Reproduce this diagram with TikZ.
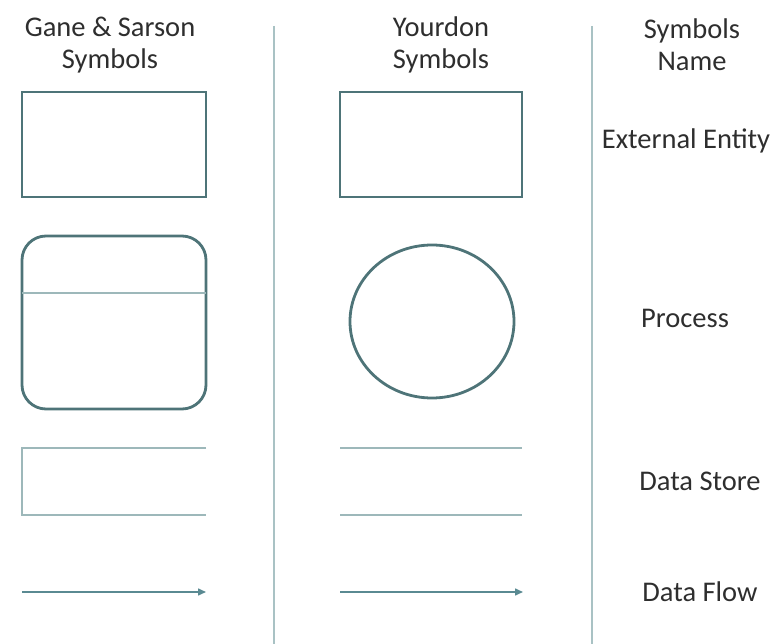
\documentclass[tikz,border=0pt]{standalone}
\usepackage{fontspec}
\setmainfont{Carlito}
\usetikzlibrary{arrows.meta,shapes.geometric}
\definecolor{shapeline}{HTML}{4E7478}
\definecolor{storeline}{HTML}{9DB8BA}
\definecolor{flowline}{HTML}{5A8A92}
\definecolor{divider}{HTML}{A9C2C4}
\definecolor{labeltext}{HTML}{2E2E2E}
\begin{document}
\begin{tikzpicture}[x=1pt,y=-1pt,
  label/.style={font=\fontsize{28.5}{32}\selectfont, text=labeltext, align=center, inner sep=0pt},
  entitybox/.style={draw=shapeline, line width=2.8pt, minimum width=184pt, minimum height=105pt, inner sep=0pt},
  procbox/.style={draw=shapeline, line width=2.8pt, rounded corners=24pt},
  storeedge/.style={draw=storeline, line width=1.8pt},
  flow/.style={draw=flowline, line width=1.5pt, -{Triangle[length=8pt,width=7pt]}},
  divide/.style={draw=divider, line width=1.2pt}
]
\useasboundingbox (0,0) rectangle (774,644);

% column headers
\node[label] (hgs) at (110,45) {Gane \& Sarson\\Symbols};
\node[label] (hyd) at (441,45) {Yourdon\\Symbols};
\node[label] (hnm) at (692,45) {Symbols\\Name};

% column dividers
\coordinate (d1a) at (274,26); \coordinate (d1b) at (274,644);
\coordinate (d2a) at (592,26); \coordinate (d2b) at (592,644);
\draw[divide] (d1a) -- (d1b);
\draw[divide] (d2a) -- (d2b);

% external entity
\node[entitybox] (gsent) at (114,144.5) {};
\node[entitybox, minimum width=182pt] (ydent) at (431,144.5) {};
\node[label] (nment) at (686,141) {External Entity};

% process
\draw[procbox] (22,236) rectangle (206,409);
\coordinate (gsbarL) at (22,293); \coordinate (gsbarR) at (206,293);
\draw[draw=storeline, line width=1.4pt] (gsbarL) -- (gsbarR);
\node[draw=shapeline, line width=2.8pt, ellipse, minimum width=164pt, minimum height=153pt, inner sep=0pt] (ydproc) at (432,321.5) {};
\node[label] (nmproc) at (685,318) {Process};

% data store
\coordinate (gsst1) at (206,448); \coordinate (gsst2) at (22,448);
\coordinate (gsst3) at (22,515); \coordinate (gsst4) at (206,515);
\draw[storeedge] (gsst1) -- (gsst2) -- (gsst3) -- (gsst4);
\coordinate (ydst1) at (340,448); \coordinate (ydst2) at (522,448);
\coordinate (ydst3) at (340,515); \coordinate (ydst4) at (522,515);
\draw[storeedge] (ydst1) -- (ydst2);
\draw[storeedge] (ydst3) -- (ydst4);
\node[label] (nmstore) at (700,481) {Data Store};

% data flow
\coordinate (gsfl1) at (22,592); \coordinate (gsfl2) at (206,592);
\coordinate (ydfl1) at (340,592); \coordinate (ydfl2) at (523,592);
\draw[flow] (gsfl1) -- (gsfl2);
\draw[flow] (ydfl1) -- (ydfl2);
\node[label] (nmflow) at (700,592) {Data Flow};
\end{tikzpicture}
\end{document}
